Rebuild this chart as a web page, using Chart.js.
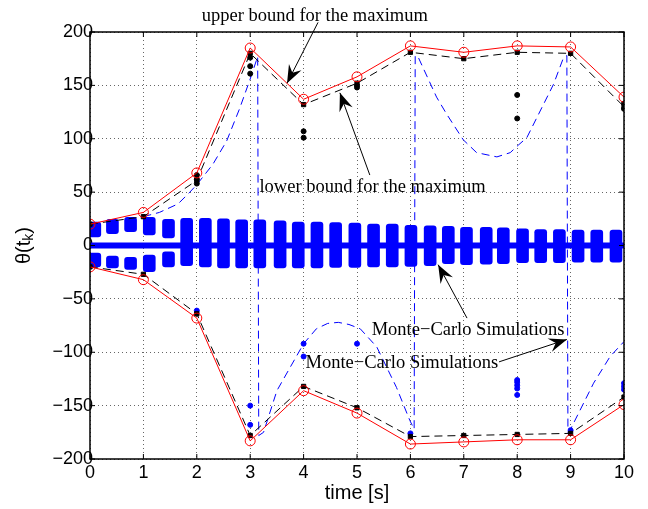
<!DOCTYPE html>
<html>
<head>
<meta charset="utf-8">
<script src="https://cdn.jsdelivr.net/npm/chart.js@4.4.1/dist/chart.umd.min.js"></script>
<style>body{margin:0;background:#fff}</style>
</head>
<body>
<canvas id="c" width="648" height="509"></canvas>
<script>
// sample times
const times = [0, 1, 2, 3, 4, 5, 6, 7, 8, 9, 10]
// bounds for the maximum (red = upper bound, black dashed = lower bound)
const upperMaxUp = [20, 31, 68, 185, 137, 158, 187, 181, 187, 186, 139]
const upperMaxLow = [20, 27, 61, 180, 132, 152, 181, 175, 181, 180, 130]
const lowerMaxUp = [-20, -32, -68, -183, -136, -157, -186, -184, -182, -182, -149]
const lowerMaxLow = [-20, -27, -64, -178, -132, -152, -179, -178, -177, -176, -142]

// monte-carlo samples at the sampling times
const blackDotT = [2, 2, 2, 3, 3, 3, 4, 4, 5, 5, 8, 8, 10, 10]
const blackDotY = [66, 62, 58, 176, 168, 161, 107, 101, 150, 148, 141, 119, 133, 128]
const blueDotT = [2, 3, 3, 4, 4, 5, 6, 8, 8, 8, 8, 8, 9, 10, 10, 10]
const blueDotY = [-61, -150, -168, -92, -104, -92, -176, -126, -128, -131, -134, -140, -173, -129, -132, -135]

// one simulated trajectory (wraps around +-180)
const curveT = [1, 1.3, 1.65, 1.87, 2, 2.3, 2.56, 2.8, 3.0, 3.14, 3.16, 3.25, 3.5, 3.75, 4.0, 4.24, 4.45, 4.65, 4.85, 5.06, 5.37, 5.74, 5.99, 6.07, 6.09, 6.15, 6.49, 6.68, 6.99, 7.24, 7.62, 7.87, 8.02, 8.18, 8.43, 8.68, 8.86, 8.93, 8.95, 8.99, 9.43, 9.74, 10]
const curveY = [27, 31, 39, 50, 57, 76, 98, 128, 156, 177, -178, -175, -136, -114, -92, -78, -73, -72, -74, -78, -95, -133, -164, -172, 178, 176, 139, 123, 99, 87, 83, 87, 94, 101, 126, 151, 175, 178, -175, -173, -129, -104, -90]

// dense simulation band: one blob per oscillation
const bandT = [0.09, 0.42, 0.76, 1.11, 1.47, 1.81, 2.16, 2.50, 2.84, 3.18, 3.56, 3.90, 4.25, 4.60, 4.96, 5.31, 5.66, 6.01, 6.37, 6.71, 7.05, 7.42, 7.74, 8.10, 8.44, 8.79, 9.14, 9.49, 9.85]
const bandTop = [22, 24.5, 26.5, 26.5, 24.5, 25.5, 25.5, 25, 24, 24, 23, 22, 22, 21.5, 21, 20, 20, 19, 18.5, 18, 17, 17, 16.5, 15.5, 15, 15, 14.5, 14.5, 14.5]
const bandInHi = [8, 11, 13, 10, 7, 0, 0, 0, 0, 0, 0, 0, 0, 0, 0, 0, 0, 0, 0, 0, 0, 0, 0, 0, 0, 0, 0, 0, 0]
const bandInLo = [-7, -10, -11, -9, -6, 0, 0, 0, 0, 0, 0, 0, 0, 0, 0, 0, 0, 0, 0, 0, 0, 0, 0, 0, 0, 0, 0, 0, 0]
const bandBottom = [-20, -21, -22.5, -24.5, -20, -19, -20, -21, -21, -21, -21, -21, -21, -20.5, -20.5, -20, -20, -19.5, -19, -17, -18, -17.5, -17, -16, -16, -16, -15.5, -15.5, -15.5]

const pts = (xs, ys) => xs.map((x, i) => ({x: x, y: ys[i]}))
const BLUE = '#0000ff'
const SANS = '"Liberation Sans", Arial, sans-serif'
const fmt = v => String(v).replace('-', '\u2212')

// y labels overlap the axis a little (matlab style): mirror them and pull back by widest label
let mctx = document.createElement('canvas').getContext('2d')
mctx.font = '18px ' + SANS
let widest = Math.max(...[-200, -150, -100, -50, 0, 50, 100, 150, 200].map(v => mctx.measureText(fmt(v)).width))

// annotation texts with arrows (data coordinates)
const notes = [
    {text: 'upper bound for the maximum', at: [4.21, 215], from: [4.27, 209], to: [3.69, 152]},
    {text: 'lower bound for the maximum', at: [5.29, 55], from: [5.24, 66], to: [4.68, 143]},
    {text: 'Monte\u2212Carlo Simulations', at: [7.08, -79], from: [7.06, -68], to: [6.52, -18]},
    {text: 'Monte\u2212Carlo Simulations', at: [5.84, -110], from: [7.66, -109], to: [8.93, -88]}
]

function arrow(ctx, x1, y1, x2, y2) {
    ctx.beginPath()
    ctx.moveTo(x1, y1)
    ctx.lineTo(x2, y2)
    ctx.stroke()
    let a = Math.atan2(y2 - y1, x2 - x1)
    let L = 18, W = 7
    ctx.save()
    ctx.translate(x2, y2)
    ctx.rotate(a)
    ctx.beginPath()
    ctx.moveTo(0, 0)
    ctx.lineTo(-L, -W)
    ctx.lineTo(-L * 0.65, 0)
    ctx.lineTo(-L, W)
    ctx.closePath()
    ctx.fill()
    ctx.restore()
}

const decor = {
    id: 'decor',
    afterDatasetsDraw(chart) {
        const {ctx, chartArea: a, scales: {x, y}} = chart
        ctx.save()
        ctx.strokeStyle = '#000'
        ctx.fillStyle = '#000'
        ctx.lineWidth = 1
        ctx.beginPath()
        x.ticks.forEach(t => {
            let px = x.getPixelForValue(t.value)
            ctx.moveTo(px, a.bottom); ctx.lineTo(px, a.bottom - 5)
            ctx.moveTo(px, a.top); ctx.lineTo(px, a.top + 5)
        })
        y.ticks.forEach(t => {
            let py = y.getPixelForValue(t.value)
            ctx.moveTo(a.left, py); ctx.lineTo(a.left + 5, py)
            ctx.moveTo(a.right, py); ctx.lineTo(a.right - 5, py)
        })
        ctx.stroke()
        ctx.lineWidth = 1.5
        ctx.strokeRect(a.left, a.top, a.right - a.left, a.bottom - a.top)

        // annotations
        ctx.font = '18.5px "Liberation Serif", "Times New Roman", serif'
        ctx.textAlign = 'center'
        ctx.textBaseline = 'middle'
        ctx.lineWidth = 1
        notes.forEach(n => {
            arrow(ctx, x.getPixelForValue(n.from[0]), y.getPixelForValue(n.from[1]),
                x.getPixelForValue(n.to[0]), y.getPixelForValue(n.to[1]))
        })
        notes.forEach(n => {
            ctx.fillStyle = '#000'
            ctx.fillText(n.text, x.getPixelForValue(n.at[0]), y.getPixelForValue(n.at[1]))
        })

        // y label θ(t_k)
        ctx.translate(24, (a.top + a.bottom) / 2)
        ctx.rotate(-Math.PI / 2)
        let big = '20px ' + SANS
        let small = '14px ' + SANS
        ctx.font = big
        let w1 = ctx.measureText('\u03b8(t').width
        let w3 = ctx.measureText(')').width
        ctx.font = small
        let w2 = ctx.measureText('k').width
        let x0 = -(w1 + w2 + w3) / 2
        ctx.textAlign = 'left'
        ctx.font = big
        ctx.fillText('\u03b8(t', x0, 0)
        ctx.font = small
        ctx.fillText('k', x0 + w1, 5)
        ctx.font = big
        ctx.fillText(')', x0 + w1 + w2, 0)
        ctx.restore()
    }
}

new Chart(document.getElementById('c'), {
    type: 'bar',
    data: {
        datasets: [
            {type: 'line', data: pts(times, upperMaxUp), borderColor: 'red', borderWidth: 1, pointStyle: 'circle', pointRadius: 5, pointBorderColor: 'red', pointBackgroundColor: 'rgba(0,0,0,0)', pointBorderWidth: 1, order: 0},
            {type: 'line', data: pts(times, lowerMaxUp), borderColor: 'red', borderWidth: 1, pointStyle: 'circle', pointRadius: 5, pointBorderColor: 'red', pointBackgroundColor: 'rgba(0,0,0,0)', pointBorderWidth: 1, order: 0},
            {type: 'line', data: pts(times, upperMaxLow), borderColor: '#000', borderWidth: 1, borderDash: [8, 5], pointStyle: 'rect', pointRadius: 3, pointBackgroundColor: '#000', pointBorderColor: '#000', order: 1},
            {type: 'line', data: pts(times, lowerMaxLow), borderColor: '#000', borderWidth: 1, borderDash: [8, 5], pointStyle: 'rect', pointRadius: 3, pointBackgroundColor: '#000', pointBorderColor: '#000', order: 1},
            {type: 'line', data: pts(blackDotT, blackDotY), showLine: false, pointRadius: 2.5, pointBackgroundColor: '#000', pointBorderColor: '#000', order: 2},
            {type: 'line', data: pts(blueDotT, blueDotY), showLine: false, pointRadius: 2.5, pointBackgroundColor: BLUE, pointBorderColor: BLUE, order: 2},
            {type: 'line', data: pts(curveT, curveY), borderColor: BLUE, borderWidth: 1, borderDash: [8, 5], pointRadius: 0, order: 3},
            {type: 'line', data: [{x: times[0], y: 0}, {x: times[times.length - 1], y: 0}], borderColor: BLUE, borderWidth: 6, pointRadius: 0, order: 4},
            {data: bandT.map((t, i) => ({x: t, y: [bandInHi[i], bandTop[i]]})), backgroundColor: BLUE, borderWidth: 0, barThickness: 12, borderRadius: 3, borderSkipped: false, grouped: false, order: 5},
            {data: bandT.map((t, i) => ({x: t, y: [bandBottom[i], bandInLo[i]]})), backgroundColor: BLUE, borderWidth: 0, barThickness: 12, borderRadius: 3, borderSkipped: false, grouped: false, order: 5}
        ]
    },
    options: {
        responsive: false,
        animation: false,
        devicePixelRatio: 1,
        layout: {padding: {left: 0, right: 24, top: 32, bottom: 0}},
        plugins: {legend: {display: false}, tooltip: {enabled: false}},
        scales: {
            x: {
                type: 'linear', min: 0, max: 10, offset: false,
                grid: {color: 'rgba(0,0,0,0.6)', drawTicks: false, offset: false},
                border: {display: false, dash: [1, 3]},
                ticks: {stepSize: 1, padding: 3, color: '#000', font: {family: SANS, size: 18}},
                title: {display: true, text: 'time [s]', color: '#000', padding: {top: 0, bottom: 4}, font: {family: SANS, size: 20}},
                afterFit: s => { s.height = 50 }
            },
            y: {
                min: -200, max: 200,
                grid: {color: 'rgba(0,0,0,0.6)', drawTicks: false},
                border: {display: false, dash: [1, 3]},
                ticks: {stepSize: 50, mirror: true, crossAlign: 'far', padding: 3 - widest, color: '#000', font: {family: SANS, size: 18},
                    callback: fmt},
                afterFit: s => { s.width = 90 }
            }
        }
    },
    plugins: [decor]
})
</script>
</body>
</html>
